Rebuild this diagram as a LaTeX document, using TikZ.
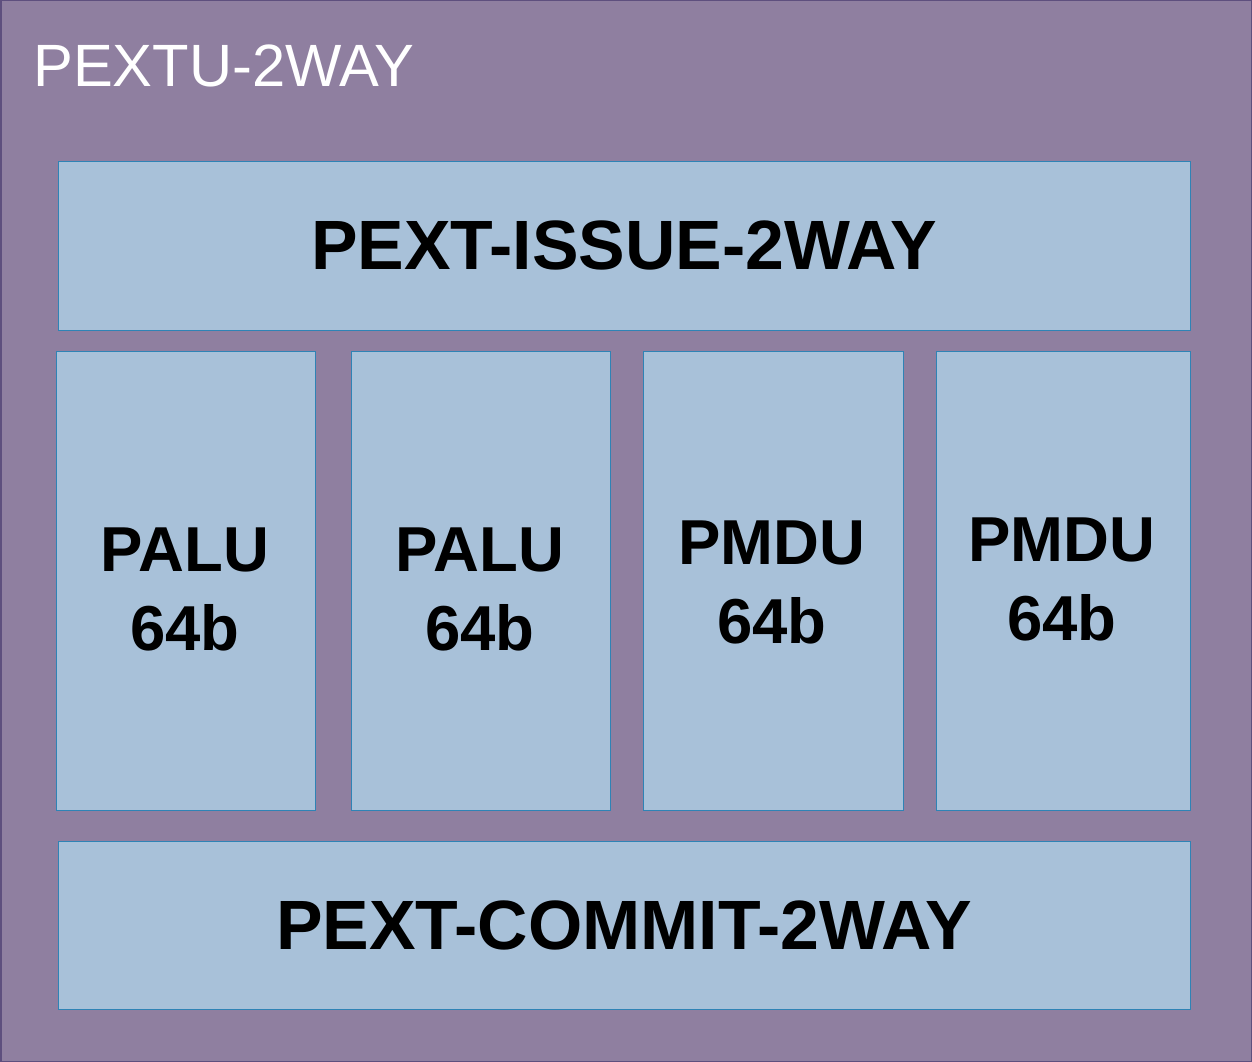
\documentclass[tikz,border=0pt]{standalone}
\usepackage{fontspec}
\setmainfont{Liberation Sans}
\definecolor{outerfill}{HTML}{8F7FA0}
\definecolor{outerline}{HTML}{5E4F7E}
\definecolor{innerfill}{HTML}{A8C1D9}
\definecolor{innerline}{HTML}{2F83B5}
\tikzset{
  unitbox/.style={draw=innerline, fill=innerfill, line width=1pt, rectangle, inner sep=0pt, outer sep=0pt},
  biglbl/.style={font=\bfseries\fontsize{69.8}{80}\selectfont, inner sep=0pt},
  collbl/.style={font=\bfseries\fontsize{63.5}{79}\selectfont, align=center, inner sep=0pt},
}
\begin{document}
\begin{tikzpicture}[x=1pt,y=-1pt]
\useasboundingbox (0,0) rectangle (1252,1062);
\node[draw=outerline, fill=outerfill, line width=1.5pt, rectangle, inner sep=0pt, minimum width=1250.5pt, minimum height=1060.5pt] (outer) at (626,531) {};
\node[anchor=base west, inner sep=0pt, font=\fontsize{59.7}{70}\selectfont, text=white] (title) at (33,87) {PEXTU-2WAY};
\node[unitbox, minimum width=1132pt, minimum height=169pt] (issuebox) at (624,245.5) {};
\node[biglbl] (issue) at (624,245.5) {PEXT-ISSUE-2WAY};
\node[unitbox, minimum width=259pt, minimum height=459pt] (b1) at (185.5,580.5) {};
\node[unitbox, minimum width=259pt, minimum height=459pt] (b2) at (480.5,580.5) {};
\node[unitbox, minimum width=260pt, minimum height=459pt] (b3) at (773,580.5) {};
\node[unitbox, minimum width=254pt, minimum height=459pt] (b4) at (1063,580.5) {};
\node[collbl] (alu1) at (185,589.5) {PALU\\64b};
\node[collbl] (alu2) at (480,589.5) {PALU\\64b};
\node[collbl] (mdu1) at (772,582.5) {PMDU\\64b};
\node[collbl] (mdu2) at (1062,579.5) {PMDU\\64b};
\node[unitbox, minimum width=1132pt, minimum height=168pt] (commitbox) at (624,925) {};
\node[biglbl] (commit) at (624,925) {PEXT-COMMIT-2WAY};
\end{tikzpicture}
\end{document}
